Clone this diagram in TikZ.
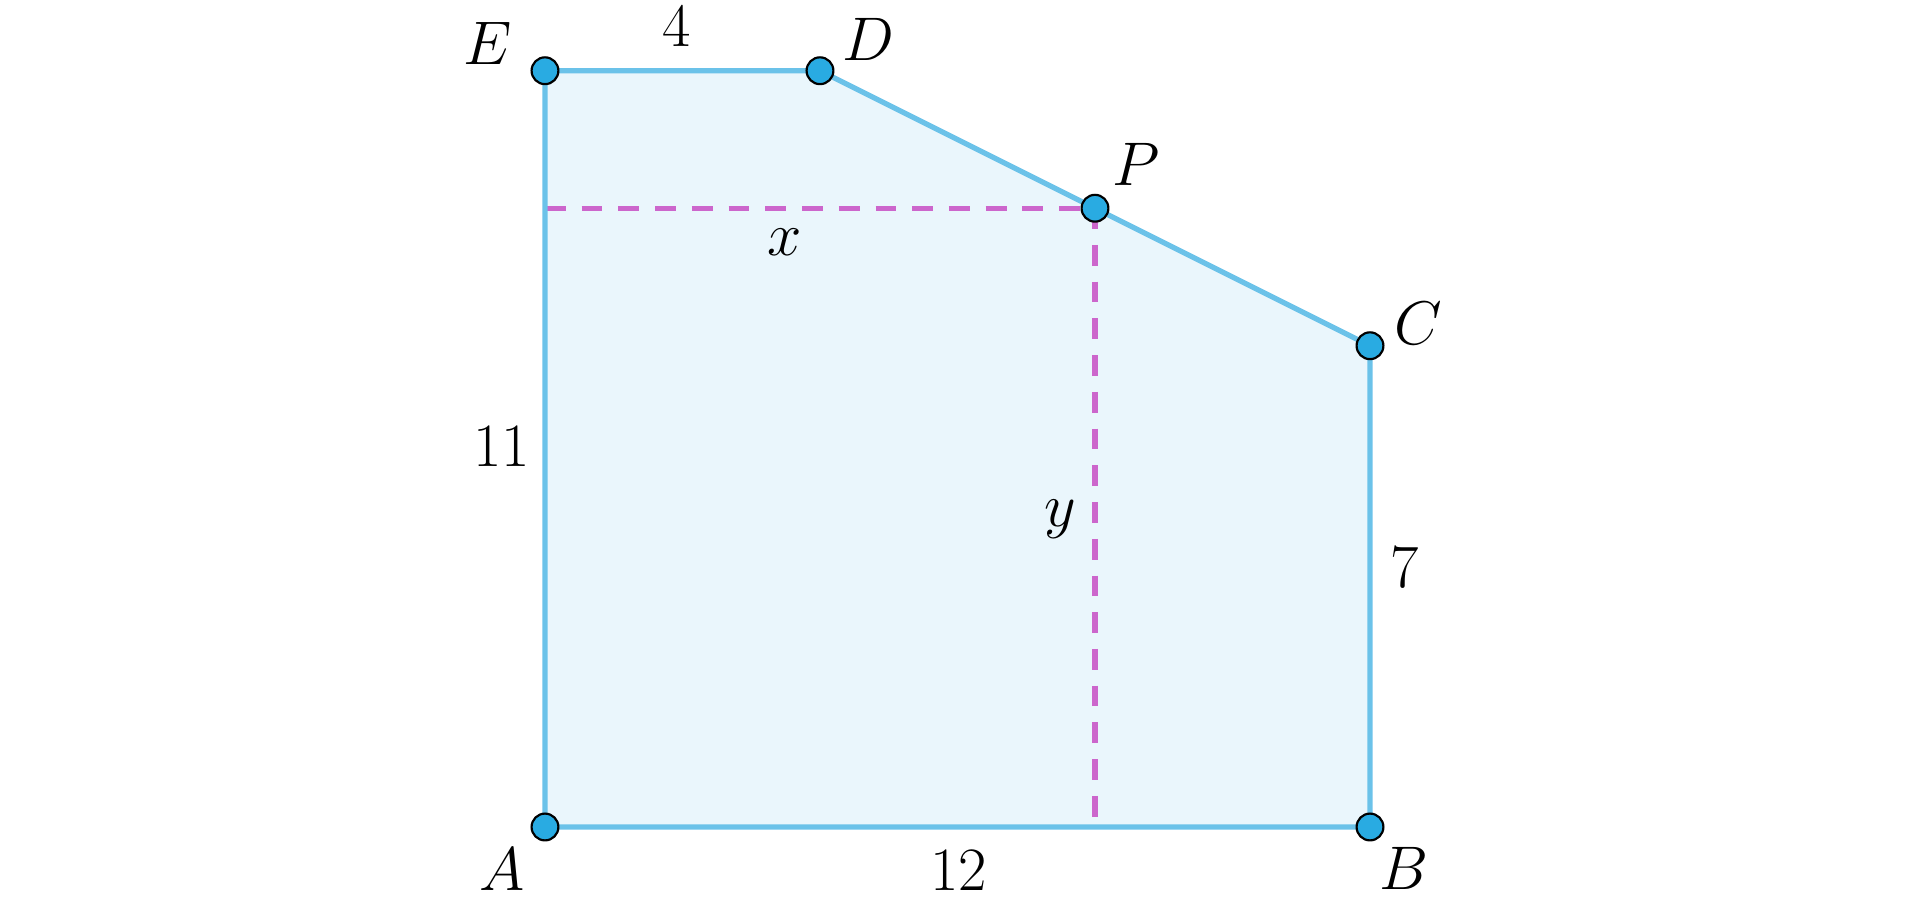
\documentclass[tikz,border=0pt]{standalone}
\usepackage{fix-cm}
\definecolor{edgeblue}{HTML}{6BC2E9}
\definecolor{fillblue}{HTML}{EAF6FC}
\definecolor{ptblue}{HTML}{29ABE2}
\definecolor{dashmag}{HTML}{CC66CC}
\tikzset{
  edge/.style={draw=edgeblue, line width=2.2pt, line join=miter},
  guide/.style={draw=dashmag, line width=2.1pt, dash pattern=on 8.6pt off 6.6pt},
  pt/.style={circle, fill=ptblue, draw=black, line width=0.9pt, minimum size=0.39cm, inner sep=0pt},
  lbl/.style={inner sep=0pt, font=\fontsize{25.5}{30}\selectfont}
}
\begin{document}
\begin{tikzpicture}
\useasboundingbox (-7.927,-1.062) rectangle (20.0,12.029);
\coordinate (a) at (0,0);
\coordinate (b) at (12,0);
\coordinate (c) at (12,7);
\coordinate (d) at (4,11);
\coordinate (e) at (0,11);
\coordinate (p) at (8,9);
\coordinate (px) at (0,9);
\coordinate (pb) at (8,0);
\fill[fillblue] (a) -- (b) -- (c) -- (d) -- (e) -- cycle;
\draw[guide] (px) -- (p);
\draw[guide] (p) -- (pb);
\draw[edge] (a) -- (b) -- (c) -- (d) -- (e) -- cycle;
\node[pt] (A) at (a) {};
\node[pt] (B) at (b) {};
\node[pt] (C) at (c) {};
\node[pt] (D) at (d) {};
\node[pt] (E) at (e) {};
\node[pt] (P) at (p) {};
\node[lbl] (lA) at (-0.63,-0.62) {$A$};
\node[lbl] (lB) at (12.5,-0.60) {$B$};
\node[lbl] (lC) at (12.7,7.33) {$C$};
\node[lbl] (lD) at (4.71,11.45) {$D$};
\node[lbl] (lE) at (-0.84,11.39) {$E$};
\node[lbl] (lP) at (8.6,9.64) {$P$};
\node[lbl] (l4) at (1.92,11.64) {$4$};
\node[lbl] (l11) at (-0.63,5.53) {$11$};
\node[lbl] (l12) at (6.02,-0.63) {$12$};
\node[lbl] (l7) at (12.51,3.77) {$7$};
\node[lbl] (lx) at (3.49,8.51) {$x$};
\node[lbl] (ly) at (7.49,4.47) {$y$};
\end{tikzpicture}
\end{document}
